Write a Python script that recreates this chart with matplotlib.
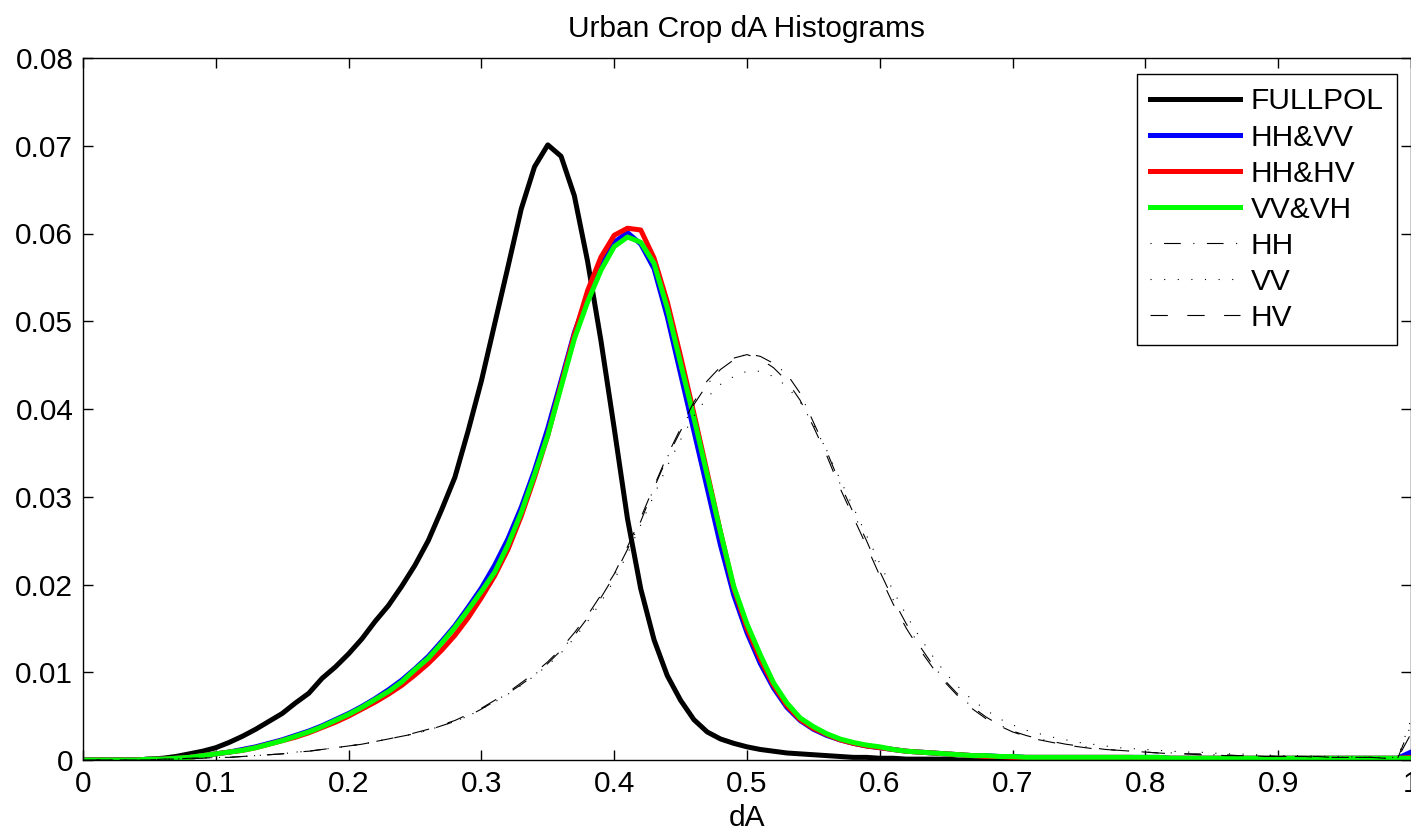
import matplotlib
matplotlib.use('Agg')
import matplotlib.pyplot as plt
import numpy as np

# histogram bin centres (dA)
dA = np.linspace(0, 1, 101)

fullpol = [0, 0, 0, 0, 0, 0.0001, 0.0002, 0.0004, 0.0007, 0.001,
           0.0014, 0.002, 0.0027, 0.0035, 0.0044, 0.0053, 0.0065, 0.0076, 0.0093, 0.0106,
           0.0121, 0.0138, 0.0158, 0.0176, 0.0198, 0.0222, 0.025, 0.0285, 0.0322, 0.0375,
           0.0432, 0.0497, 0.0562, 0.0628, 0.0676, 0.0701, 0.0688, 0.0643, 0.0568, 0.0478,
           0.0378, 0.0275, 0.0195, 0.0137, 0.0096, 0.0068, 0.0046, 0.0032, 0.0024, 0.0019,
           0.0015, 0.0012, 0.001, 0.0008, 0.0007, 0.0006, 0.0005, 0.0004, 0.0003, 0.0003,
           0.0002, 0.0002, 0.0001, 0.0001, 0.0001, 0.0001, 0, 0, 0, 0,
           0, 0, 0, 0, 0, 0, 0, 0, 0, 0,
           0, 0, 0, 0, 0, 0, 0, 0, 0, 0,
           0, 0, 0, 0, 0, 0, 0, 0, 0, 0,
           0]

hh_vv = [0, 0, 0, 0, 0, 0.0001, 0.0001, 0.0002, 0.0003, 0.0005,
         0.0007, 0.0009, 0.0012, 0.0015, 0.0019, 0.0023, 0.0028, 0.0033, 0.0039, 0.0046,
         0.0053, 0.0061, 0.007, 0.008, 0.0091, 0.0104, 0.0118, 0.0135, 0.0153, 0.0174,
         0.0196, 0.0222, 0.0252, 0.0288, 0.033, 0.0378, 0.0432, 0.0487, 0.0528, 0.0565,
         0.059, 0.0601, 0.0588, 0.056, 0.0505, 0.044, 0.0375, 0.031, 0.0245, 0.0188,
         0.0145, 0.011, 0.0082, 0.006, 0.0045, 0.0035, 0.0028, 0.0023, 0.0019, 0.0016,
         0.0014, 0.0012, 0.001, 0.0009, 0.0008, 0.0007, 0.0006, 0.0005, 0.0005, 0.0004,
         0.0004, 0.0003, 0.0003, 0.0003, 0.0003, 0.0003, 0.0003, 0.0003, 0.0003, 0.0003,
         0.0003, 0.0003, 0.0002, 0.0002, 0.0002, 0.0002, 0.0002, 0.0002, 0.0002, 0.0002,
         0.0002, 0.0002, 0.0002, 0.0002, 0.0002, 0.0002, 0.0002, 0.0002, 0.0002, 0.0002,
         0.0009]

hh_hv = [0, 0, 0, 0, 0, 0.0001, 0.0001, 0.0002, 0.0003, 0.0005,
         0.0007, 0.0009, 0.0011, 0.0014, 0.0018, 0.0022, 0.0026, 0.0031, 0.0037, 0.0043,
         0.005, 0.0058, 0.0066, 0.0075, 0.0085, 0.0097, 0.011, 0.0125, 0.0142, 0.0162,
         0.0185, 0.021, 0.024, 0.0278, 0.0322, 0.037, 0.0428, 0.0485, 0.0535, 0.0573,
         0.0598, 0.0606, 0.0604, 0.0572, 0.0522, 0.046, 0.0395, 0.0328, 0.026, 0.0196,
         0.015, 0.0115, 0.0085, 0.0062, 0.0046, 0.0036, 0.0029, 0.0023, 0.0019, 0.0016,
         0.0014, 0.0012, 0.001, 0.0009, 0.0008, 0.0007, 0.0006, 0.0005, 0.0004, 0.0004,
         0.0003, 0.0003, 0.0003, 0.0003, 0.0003, 0.0003, 0.0003, 0.0003, 0.0003, 0.0003,
         0.0002, 0.0002, 0.0002, 0.0002, 0.0002, 0.0002, 0.0002, 0.0002, 0.0002, 0.0002,
         0.0002, 0.0002, 0.0002, 0.0002, 0.0002, 0.0002, 0.0002, 0.0002, 0.0002, 0.0002,
         0.0003]

vv_vh = [0, 0, 0, 0, 0, 0.0001, 0.0001, 0.0002, 0.0003, 0.0005,
         0.0007, 0.0009, 0.0011, 0.0014, 0.0018, 0.0022, 0.0027, 0.0032, 0.0038, 0.0045,
         0.0052, 0.006, 0.0069, 0.0078, 0.0089, 0.0103, 0.0116, 0.0133, 0.0151, 0.0171,
         0.0192, 0.0214, 0.0245, 0.0282, 0.0325, 0.037, 0.0425, 0.048, 0.0522, 0.0558,
         0.0585, 0.0596, 0.059, 0.0566, 0.0515, 0.0452, 0.039, 0.0325, 0.026, 0.0198,
         0.0155, 0.012, 0.0088, 0.0065, 0.0048, 0.0038, 0.003, 0.0024, 0.002, 0.0017,
         0.0015, 0.0012, 0.001, 0.0009, 0.0008, 0.0007, 0.0006, 0.0005, 0.0005, 0.0004,
         0.0004, 0.0003, 0.0003, 0.0003, 0.0003, 0.0003, 0.0003, 0.0003, 0.0003, 0.0003,
         0.0003, 0.0003, 0.0002, 0.0002, 0.0002, 0.0002, 0.0002, 0.0002, 0.0002, 0.0002,
         0.0002, 0.0002, 0.0002, 0.0002, 0.0002, 0.0002, 0.0002, 0.0002, 0.0002, 0.0002,
         0.0002]

hh = [0, 0, 0, 0, 0, 0, 0.0001, 0.0001, 0.0002, 0.0002,
      0.0003, 0.0003, 0.0004, 0.0005, 0.0006, 0.0007, 0.0009, 0.001, 0.0012, 0.0014,
      0.0016, 0.0018, 0.0021, 0.0024, 0.0027, 0.003, 0.0034, 0.0039, 0.0044, 0.005,
      0.0058, 0.0067, 0.0076, 0.0086, 0.0097, 0.011, 0.0125, 0.0142, 0.0162, 0.0185,
      0.021, 0.024, 0.0272, 0.031, 0.0345, 0.0375, 0.0405, 0.0428, 0.0445, 0.0456,
      0.0463, 0.046, 0.0452, 0.044, 0.0418, 0.0385, 0.0352, 0.0315, 0.0282, 0.025,
      0.0215, 0.0183, 0.0155, 0.013, 0.0108, 0.0089, 0.0073, 0.006, 0.0049, 0.004,
      0.0033, 0.0028, 0.0024, 0.0021, 0.0018, 0.0016, 0.0014, 0.0012, 0.0011, 0.001,
      0.0009, 0.0008, 0.0008, 0.0007, 0.0007, 0.0006, 0.0006, 0.0005, 0.0005, 0.0005,
      0.0004, 0.0004, 0.0004, 0.0004, 0.0003, 0.0003, 0.0003, 0.0003, 0.0002, 0.0002,
      0.004]

vv = [0, 0, 0, 0, 0, 0, 0.0001, 0.0001, 0.0002, 0.0002,
      0.0003, 0.0003, 0.0004, 0.0005, 0.0006, 0.0007, 0.0009, 0.001, 0.0012, 0.0014,
      0.0016, 0.0018, 0.0021, 0.0024, 0.0027, 0.003, 0.0034, 0.0039, 0.0044, 0.005,
      0.0058, 0.0066, 0.0075, 0.0085, 0.0096, 0.0108, 0.0122, 0.0139, 0.0158, 0.018,
      0.0205, 0.0235, 0.0268, 0.0302, 0.0335, 0.0365, 0.0392, 0.0413, 0.0428, 0.0437,
      0.0443, 0.0443, 0.0437, 0.0426, 0.0408, 0.0382, 0.0353, 0.032, 0.0288, 0.0256,
      0.0224, 0.0193, 0.0165, 0.014, 0.0118, 0.0098, 0.0082, 0.0068, 0.0057, 0.0047,
      0.004, 0.0034, 0.003, 0.0026, 0.0023, 0.002, 0.0018, 0.0016, 0.0014, 0.0013,
      0.0012, 0.0011, 0.001, 0.0009, 0.0009, 0.0008, 0.0007, 0.0007, 0.0006, 0.0006,
      0.0005, 0.0005, 0.0005, 0.0004, 0.0004, 0.0004, 0.0003, 0.0003, 0.0003, 0.0003,
      0.0046]

hv = [0, 0, 0, 0, 0, 0, 0.0001, 0.0001, 0.0002, 0.0002,
      0.0003, 0.0003, 0.0004, 0.0005, 0.0006, 0.0007, 0.0009, 0.001, 0.0012, 0.0014,
      0.0016, 0.0018, 0.0021, 0.0024, 0.0027, 0.0031, 0.0035, 0.004, 0.0045, 0.0052,
      0.0059, 0.0068, 0.0077, 0.0088, 0.0099, 0.0112, 0.0127, 0.0145, 0.0165, 0.0188,
      0.0212, 0.0243, 0.0276, 0.0312, 0.0347, 0.0378, 0.0408, 0.0432, 0.0448, 0.0458,
      0.0462, 0.0457, 0.0447, 0.0432, 0.041, 0.038, 0.0347, 0.031, 0.0277, 0.0244,
      0.021, 0.0178, 0.015, 0.0126, 0.0105, 0.0087, 0.0071, 0.0058, 0.0047, 0.0039,
      0.0032, 0.0027, 0.0023, 0.002, 0.0017, 0.0015, 0.0013, 0.0012, 0.0011, 0.001,
      0.0009, 0.0008, 0.0007, 0.0007, 0.0006, 0.0006, 0.0005, 0.0005, 0.0005, 0.0004,
      0.0004, 0.0004, 0.0004, 0.0003, 0.0003, 0.0003, 0.0003, 0.0003, 0.0002, 0.0002,
      0.003]

plt.rcParams['font.family'] = ['Liberation Sans', 'DejaVu Sans']
plt.rcParams['lines.scale_dashes'] = False

fs = 21.5
fig = plt.figure(figsize=(14.11, 8.33), dpi=100)
ax = fig.add_axes([83 / 1411, 73 / 833, 1328 / 1411, 702 / 833])

ax.plot(dA, fullpol, color='black', lw=3.6, label='FULLPOL')
ax.plot(dA, hh_vv, color='blue', lw=3.6, label='HH&VV')
ax.plot(dA, hh_hv, color='red', lw=3.6, label='HH&HV')
ax.plot(dA, vv_vh, color='#00ff00', lw=3.6, label='VV&VH')
ax.plot(dA, hh, color='black', lw=0.8, linestyle=(0, (0.8, 9, 12, 9)), label='HH')
ax.plot(dA, vv, color='black', lw=0.8, linestyle=(0, (0.8, 9)), label='VV')
ax.plot(dA, hv, color='black', lw=0.8, linestyle=(0, (12.5, 14)), label='HV')

ax.set_xlim(0, 1)
ax.set_ylim(0, 0.08)
ax.set_xticks(np.arange(0, 1.01, 0.1))
ax.set_xticklabels(['0', '0.1', '0.2', '0.3', '0.4', '0.5', '0.6', '0.7', '0.8', '0.9', '1'])
ax.set_yticks(np.arange(0, 0.081, 0.01))
ax.set_yticklabels(['0', '0.01', '0.02', '0.03', '0.04', '0.05', '0.06', '0.07', '0.08'])
ax.tick_params(direction='in', length=7, width=1, top=True, right=True,
               labelsize=fs, pad=7)
for sp in ax.spines.values():
    sp.set_linewidth(1.0)

ax.set_title('Urban Crop dA Histograms', fontsize=fs, pad=15)
ax.set_xlabel('dA', fontsize=fs, labelpad=4.5)

leg = ax.legend(loc='upper left', bbox_to_anchor=((1137 - 83) / 1328, (760 - 74) / 702),
                fontsize=fs, frameon=True, fancybox=False, framealpha=1,
                handlelength=3.0, handletextpad=0.35, labelspacing=0.27,
                borderpad=0.45, borderaxespad=0)
leg.get_frame().set_edgecolor('black')
leg.get_frame().set_linewidth(1.0)

fig.savefig('out.png', dpi=100)
